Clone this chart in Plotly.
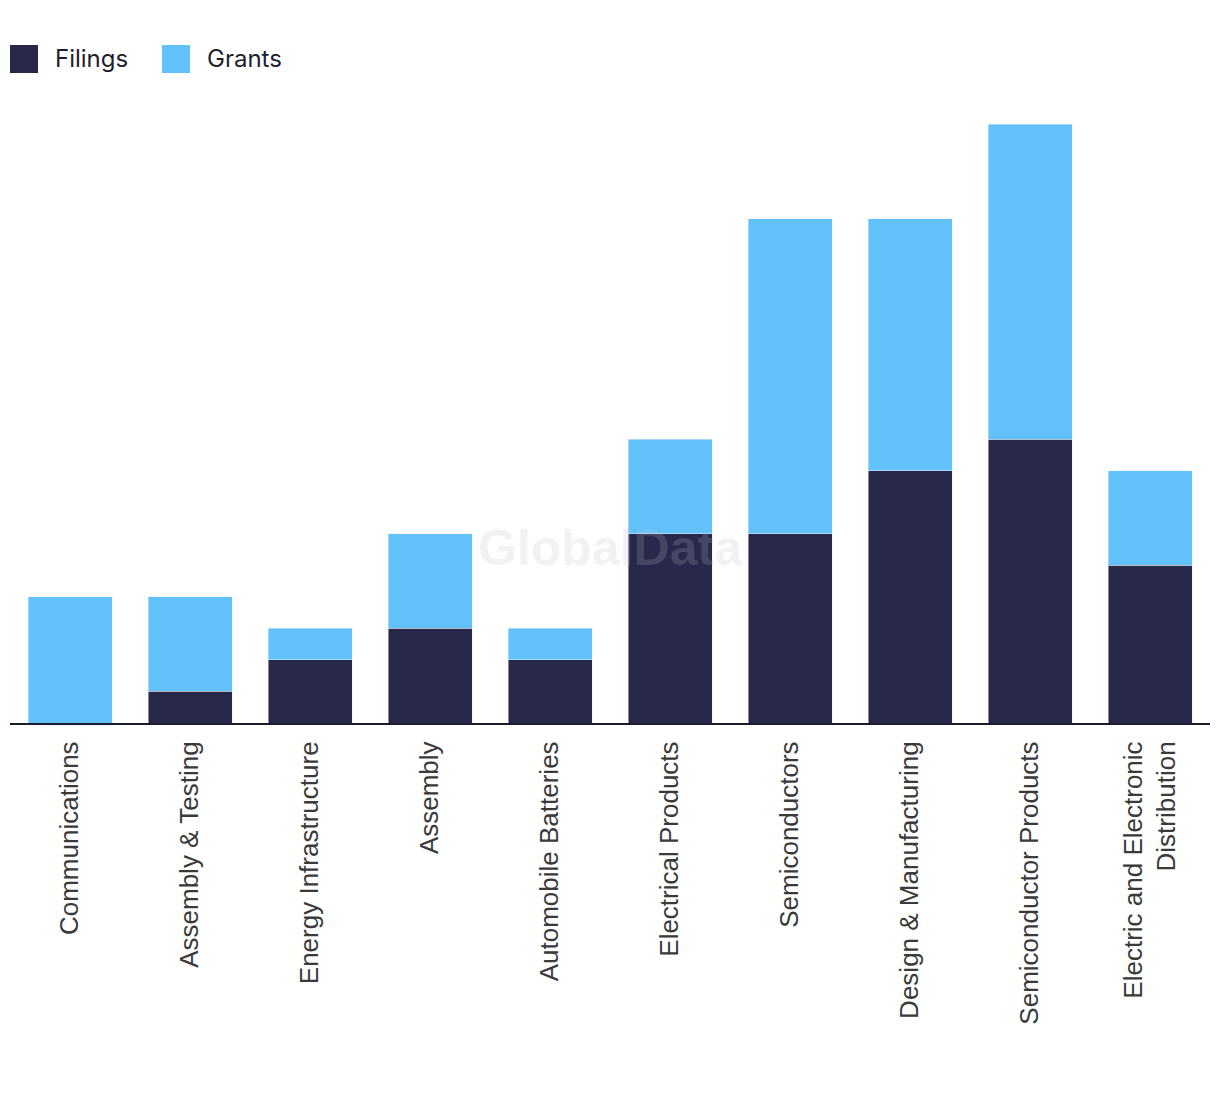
import plotly.graph_objects as go

categories = ["Communications", "Assembly & Testing", "Energy Infrastructure", "Assembly",
              "Automobile Batteries", "Electrical Products", "Semiconductors",
              "Design & Manufacturing", "Semiconductor Products",
              "Electric and Electronic<br>Distribution"]
filings = [0, 1, 2, 3, 2, 6, 6, 8, 9, 5]
grants = [4, 3, 1, 3, 1, 3, 10, 8, 10, 3]

NAVY = "#27284a"
BLUE = "#62c1f9"

fig = go.Figure()
fig.add_bar(x=categories, y=filings, name="Filings", marker_color=NAVY, showlegend=False)
fig.add_bar(x=categories, y=grants, name="Grants", marker_color=BLUE, showlegend=False)

fig.update_layout(
    width=1220, height=1094,
    margin=dict(l=10, r=10, t=124, b=371),
    barmode="stack", bargap=0.3,
    plot_bgcolor="white", paper_bgcolor="white",
    xaxis=dict(showline=True, linecolor="#1c1c30", linewidth=2, tickangle=-90,
               tickfont=dict(family="Liberation Sans, Arial", size=26, color="#3a3a3a"),
               ticks="", showgrid=False, ticklabelstandoff=6),
    yaxis=dict(range=[0, 19], visible=False, showgrid=False),
)

# legend drawn manually
for x0, col, label in [(10, NAVY, "Filings"), (162, BLUE, "Grants")]:
    fig.add_shape(type="rect", xref="paper", yref="paper",
                  x0=(x0 - 10) / 1200, x1=(x0 + 18) / 1200,
                  y0=(723 - 73) / 599, y1=(723 - 45) / 599,
                  fillcolor=col, line_width=0)
    fig.add_annotation(xref="paper", yref="paper", x=(x0 + 33) / 1200, y=(723 - 58) / 599,
                       xanchor="left", yanchor="middle", showarrow=False, text=label,
                       font=dict(family="Inter, Lato, sans-serif", size=24, color="#1e1e2e"))

# watermark
fig.add_annotation(xref="paper", yref="paper", x=(610 - 10) / 1200, y=(723 - 548) / 599,
                   yanchor="middle", showarrow=False, text="<b>GlobalData</b>",
                   font=dict(family="Liberation Sans, Arial", size=50, color="rgba(190,190,200,0.2)"))

fig.write_html("out.html")
